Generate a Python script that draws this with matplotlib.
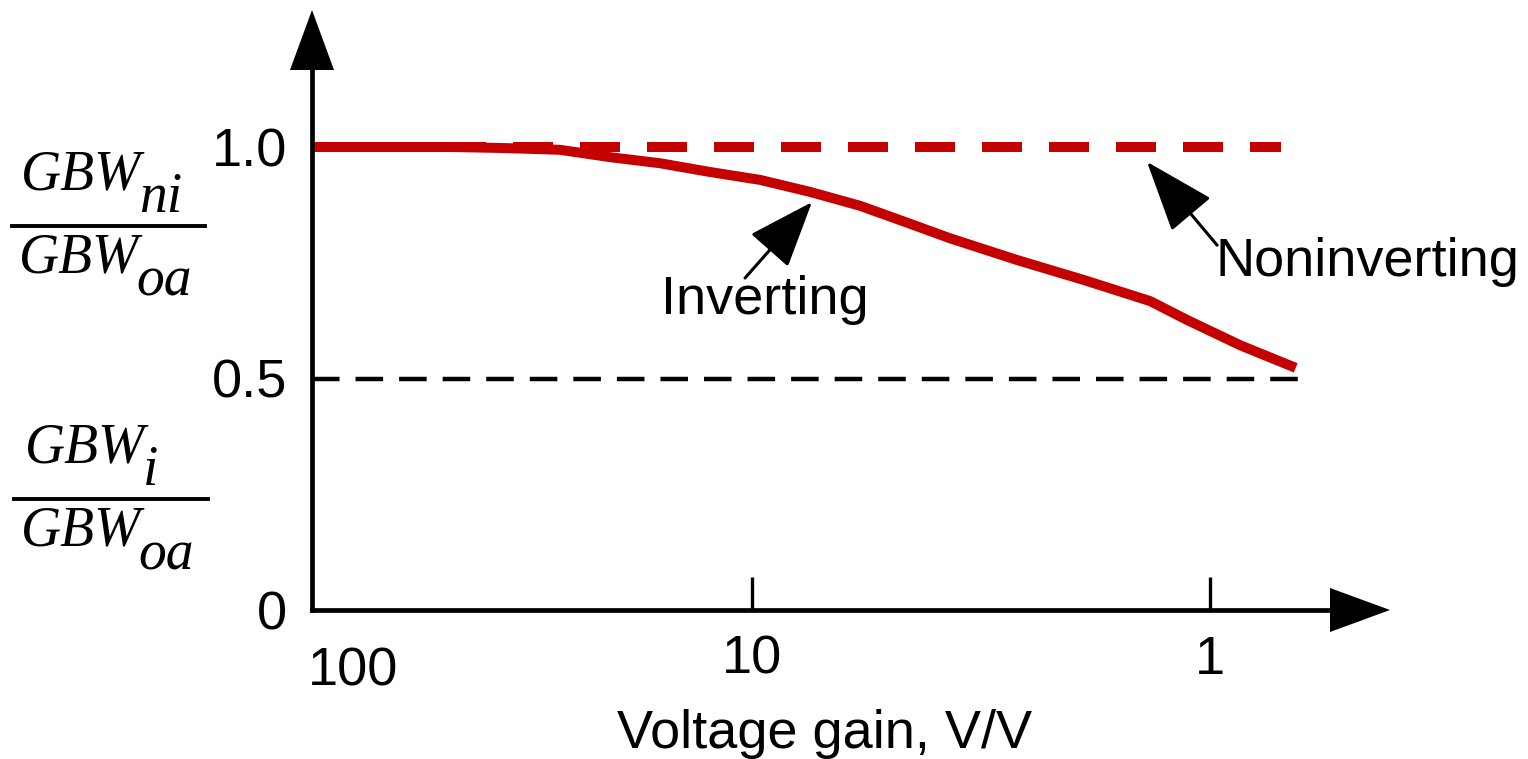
import matplotlib
matplotlib.use('Agg')
import matplotlib.pyplot as plt
from matplotlib.patches import Polygon
from matplotlib.lines import Line2D

# ---------------- data ----------------
inv_gain = [91.4, 45.6, 35.5, 26.3, 20.4, 15.9, 12.35, 9.61, 7.47, 5.81, 4.63,
            3.70, 2.64, 1.89, 1.35, 1.12, 0.86, 0.65]
inv_ratio = [1.0, 1.0, 0.998, 0.994, 0.978, 0.965, 0.946, 0.929, 0.903, 0.873,
             0.838, 0.803, 0.756, 0.713, 0.667, 0.626, 0.572, 0.523]
noninv_gain = [91.4, 0.70]
noninv_ratio = [1.0, 1.0]
half_gain = [91.4, 0.624]
half_ratio = [0.5, 0.5]
x_ticks = [10, 1]
x_ticklabels = ['10', '1']
x_first_label = '100'
y_ticks = [0, 0.5, 1.0]
y_ticklabels = ['0', '0.5', '1.0']
xlabel = 'Voltage gain, V/V'

# ---------------- style ----------------
W, H = 1528, 759
RED = '#c40000'
SANS = 'Liberation Sans'
SERIF = 'Liberation Serif'
FS = 39
plt.rcParams['font.family'] = [SANS, 'DejaVu Sans']

fig = plt.figure(figsize=(W / 100, H / 100), dpi=100)
ax = fig.add_axes([312 / W, (H - 610) / H, (1390 - 312) / W, 600 / H])
ax.set_xscale('log')
ax.set_xlim(10 ** 1.961, 10 ** -0.393)
ax.set_ylim(0, 600 / 463)
ax.patch.set_alpha(0)

for s in ['top', 'right']:
    ax.spines[s].set_visible(False)
for s in ['left', 'bottom']:
    ax.spines[s].set_linewidth(3.4)
ax.spines['left'].set_bounds(0, 540 / 463)
ax.spines['bottom'].set_bounds(10 ** 1.961, 10 ** -0.262)

# axis arrow heads (axes fraction coordinates)
hw_x = 22 / 1078
hw_y = 22 / 600
ax.add_patch(Polygon([[-hw_x, 540 / 600], [hw_x, 540 / 600], [0, 1.0]],
                     closed=True, transform=ax.transAxes, clip_on=False,
                     color='black', lw=0))
ax.add_patch(Polygon([[1018 / 1078, -hw_y], [1018 / 1078, hw_y], [1.0, 0]],
                     closed=True, transform=ax.transAxes, clip_on=False,
                     color='black', lw=0))

# ticks
ax.set_xticks(x_ticks)
ax.set_xticklabels(x_ticklabels)
ax.xaxis.set_minor_locator(matplotlib.ticker.NullLocator())
ax.tick_params(axis='x', which='major', direction='in', length=24, width=2.4,
               pad=18, labelsize=FS)
ax.set_yticks(y_ticks)
ax.set_yticklabels(y_ticklabels)
ax.tick_params(axis='y', which='major', length=0, pad=18, labelsize=FS)
ax.annotate(x_first_label, xy=(10 ** 1.961, 0), xycoords='data',
            xytext=(-3, -26), textcoords='offset points',
            ha='left', va='top', fontsize=FS)

# lines
ax.plot(half_gain, half_ratio, color='black', lw=3.2,
        linestyle=(0, (6.2, 3.6)), dash_capstyle='butt', clip_on=False)
ax.plot(noninv_gain, noninv_ratio, color=RED, lw=7.2,
        linestyle=(0, (4.0, 2.7)), dash_capstyle='butt', clip_on=False)
ax.plot(inv_gain, inv_ratio, color=RED, lw=7.2, solid_capstyle='butt',
        solid_joinstyle='round', clip_on=False)

# annotations
ax.annotate('', xy=(7.4, 0.881), xytext=(10.36, 0.717),
            arrowprops=dict(arrowstyle='-|>,head_length=4.2,head_width=1.6',
                            mutation_scale=10, lw=2.2, color='black',
                            shrinkA=0, shrinkB=0))
ax.text(9.37, 0.67, 'Inverting', ha='center', va='center', fontsize=FS)
ax.annotate('', xy=(1.373, 0.968), xytext=(0.965, 0.788),
            arrowprops=dict(arrowstyle='-|>,head_length=4.5,head_width=1.65',
                            mutation_scale=10, lw=2.2, color='black',
                            shrinkA=0, shrinkB=0))
ax.text(0.975, 0.752, 'Noninverting', ha='left', va='center', fontsize=FS)

# x label
fig.text(825 / W, 1 - 748 / H, xlabel, ha='center', va='baseline', fontsize=FS)


# fraction labels (pixel layout helper)
def ftxt(x, y, s):
    fig.text(x / W, 1 - y / H, s, ha='left', va='baseline', fontsize=40,
             family=SERIF, style='italic')


def fbar(x0, x1, y):
    fig.add_artist(Line2D([x0 / W, x1 / W], [1 - y / H, 1 - y / H],
                          transform=fig.transFigure, color='black', lw=2.8))


ftxt(21, 189, 'GBW')
ftxt(139, 212, 'ni')
fbar(12, 205, 226)
ftxt(19, 272, 'GBW')
ftxt(136, 295, 'oa')

ftxt(25, 462, 'GBW')
ftxt(143, 485, 'i')
fbar(14, 208, 499)
ftxt(21, 545, 'GBW')
ftxt(138, 570, 'oa')

fig.savefig('out.png', dpi=100)
